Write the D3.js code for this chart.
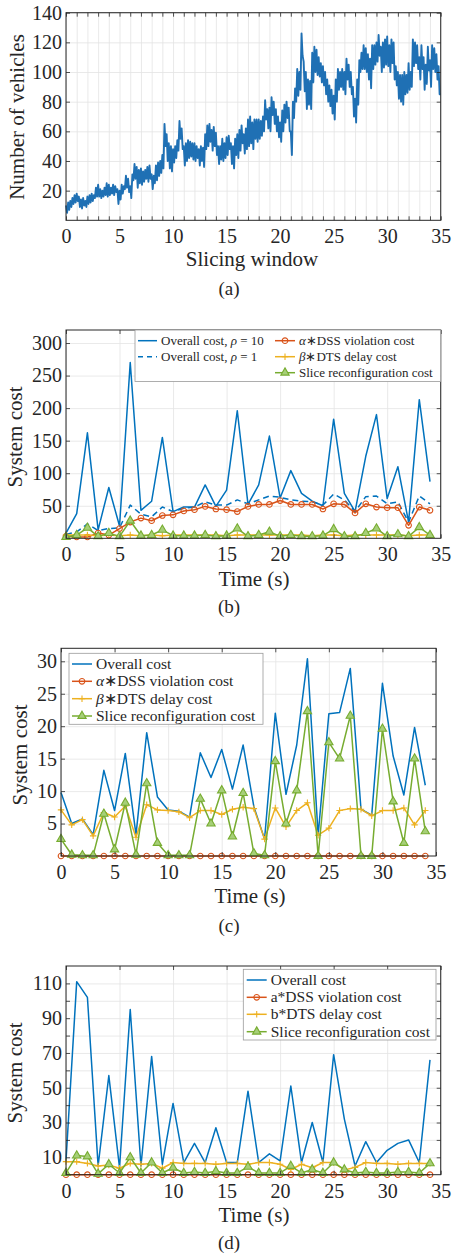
<!DOCTYPE html>
<html>
<head>
<meta charset="utf-8">
<script src="https://cdn.jsdelivr.net/npm/d3@7"></script>
<style>
body { margin: 0; background: #fff; }
svg text { font-family: "Liberation Serif", "Times New Roman", serif; fill: #262626; }
</style>
</head>
<body>
<svg id="fig" width="452" height="1258" font-family="Liberation Serif, Times New Roman, serif"></svg>
<script>
// (a) number of vehicles, one sample every 0.1 slicing window
var vehicleStep = 0.1;
var vehicleCounts = [
    10, 5, 12, 7, 13, 9, 15, 11, 17, 12,
    18, 13, 16, 9, 14, 8, 15, 10, 13, 9,
    16, 11, 17, 12, 18, 13, 17, 15, 22, 16,
    24, 16, 21, 15, 20, 16, 22, 17, 25, 16,
    24, 17, 22, 18, 24, 17, 23, 19, 21, 11,
    20, 14, 24, 18, 23, 21, 30, 22, 28, 19,
    23, 15, 31, 27, 38, 28, 36, 22, 34, 25,
    35, 24, 33, 26, 34, 28, 36, 26, 37, 28,
    31, 21, 30, 25, 37, 27, 39, 30, 40, 32,
    44, 35, 65, 50, 58, 40, 52, 35, 50, 33,
    48, 39, 50, 42, 54, 47, 67, 55, 62, 48,
    50, 37, 52, 40, 54, 42, 53, 43, 52, 41,
    52, 40, 50, 42, 48, 37, 50, 40, 49, 36,
    58, 48, 64, 50, 65, 53, 61, 47, 63, 50,
    59, 44, 50, 38, 50, 41, 55, 40, 52, 42,
    56, 44, 57, 48, 52, 38, 50, 35, 55, 44,
    58, 42, 61, 47, 64, 52, 58, 45, 62, 48,
    68, 50, 70, 52, 66, 48, 68, 55, 68, 53,
    68, 55, 67, 57, 70, 60, 81, 68, 75, 62,
    76, 60, 83, 71, 80, 65, 75, 60, 70, 56,
    66, 53, 74, 60, 78, 66, 80, 69, 76, 60,
    60, 44, 80, 69, 89, 80, 102, 84, 100, 88,
    126, 111, 107, 87, 100, 75, 95, 78, 94, 75,
    113, 93, 117, 100, 115, 98, 110, 97, 106, 93,
    104, 91, 100, 85, 95, 80, 91, 77, 88, 72,
    84, 68, 95, 80, 102, 88, 100, 90, 102, 88,
    100, 85, 109, 95, 105, 90, 100, 85, 90, 70,
    82, 66, 95, 78, 108, 100, 113, 102, 118, 102,
    116, 100, 112, 95, 109, 89, 118, 102, 118, 105,
    120, 107, 125, 111, 117, 100, 120, 103, 122, 105,
    124, 104, 118, 100, 122, 106, 120, 95, 104, 91,
    100, 82, 98, 80, 98, 78, 100, 85, 98, 86,
    106, 88, 100, 90, 122, 104, 120, 106, 118, 102,
    110, 95, 118, 102, 110, 88, 105, 92, 117, 101,
    108, 90, 118, 102, 116, 100, 112, 95, 104, 85,
    85
];

var costTimes = [0, 1, 2, 3, 4, 5, 6, 7, 8, 9, 10, 11, 12, 13, 14, 15, 16, 17,
    18, 19, 20, 21, 22, 23, 24, 25, 26, 27, 28, 29, 30, 31, 32, 33, 34];

// (b)
var overallRho10 = [8, 38, 162, 13, 78, 19, 270, 43, 57, 155, 41, 48, 48, 82, 49, 74, 196, 52,
    82, 157, 62, 104, 69, 57, 50, 183, 69, 41, 126, 190, 61, 110, 25, 213, 87];
var overallRho1 = [6, 10, 22, 12, 15, 16, 51, 37, 33, 48, 41, 46, 48, 56, 51, 51, 59, 53,
    59, 65, 63, 59, 57, 56, 51, 68, 59, 41, 64, 65, 53, 56, 25, 65, 53];
var dssCostB = [3, 2, 2, 8, 5, 15, 25, 31, 27, 35, 36, 42, 44, 49, 45, 44, 41, 49,
    52, 52, 58, 52, 52, 52, 45, 53, 52, 39, 53, 48, 47, 47, 20, 48, 43];
var dtsCostB = [5, 5, 5, 4, 5, 4, 5, 4, 5, 4, 5, 5, 5, 5, 5, 4, 5, 5,
    5, 5, 5, 5, 5, 4, 5, 5, 4, 5, 5, 5, 5, 5, 4, 5, 5];
var reconfCostB = [2, 5, 16, 3, 8, 3, 27, 4, 5, 13, 4, 4, 4, 5, 3, 4, 15, 3,
    5, 10, 3, 5, 3, 3, 4, 14, 3, 3, 8, 15, 3, 6, 3, 17, 5];

// (c)
var overallC = [9.8, 5.0, 5.7, 3.3, 13.2, 7.0, 15.8, 3.3, 19.0, 9.1, 7.1, 6.9, 6.0, 15.9, 12.1, 16.4, 10.3, 17.1,
    7.6, 2.6, 22.0, 9.5, 17.1, 30.4, 3.2, 21.9, 22.1, 28.9, 7.2, 6.3, 26.6, 15.4, 9.4, 19.8, 10.9];
var dssCostC = [0, 0, 0, 0, 0, 0, 0, 0, 0, 0, 0, 0, 0, 0, 0, 0, 0, 0,
    0, 0, 0, 0, 0, 0, 0, 0, 0, 0, 0, 0, 0, 0, 0, 0, 0];
var dtsCostC = [7.1, 4.8, 5.6, 3.1, 6.7, 6.0, 7.7, 2.9, 7.9, 7.1, 7.0, 6.8, 5.9, 7.0, 7.0, 6.4, 7.2, 7.5,
    7.3, 2.6, 7.4, 4.5, 7.0, 8.2, 3.2, 4.3, 7.0, 7.3, 7.2, 6.2, 7.0, 7.0, 7.4, 4.8, 7.0];
var reconfCostC = [2.6, 0.2, 0.1, 0.1, 6.5, 1.0, 8.2, 0.2, 11.2, 2.0, 0.1, 0.1, 0.1, 8.8, 5.0, 10.1, 3.0, 9.7,
    0.4, 0.1, 14.6, 5.0, 10.1, 22.3, 0.0, 17.5, 15.0, 21.6, 0.0, 0.0, 19.6, 8.4, 2.0, 15.0, 3.8];

// (d)
var overallD = [8, 111, 102, 5, 57, 4, 95, 5, 68, 6, 41, 7, 18, 7, 27, 7, 7, 48,
    7, 12, 8, 51, 7, 30, 7, 69, 32, 5, 19, 7, 14, 18, 20, 7, 66];
var dssCostD = [0, 0, 0, 0, 0, 0, 0, 0, 0, 0, 0, 0, 0, 0, 0, 0, 0, 0,
    0, 0, 0, 0, 0, 0, 0, 0, 0, 0, 0, 0, 0, 0, 0, 0, 0];
var dtsCostD = [7.5, 7.5, 6.5, 5.0, 5.6, 3.7, 6.5, 6.0, 6.5, 3.7, 7.0, 6.5, 6.5, 6.5, 6.0, 6.5, 6.5, 6.0,
    7.0, 7.0, 6.0, 3.0, 6.0, 4.0, 7.0, 7.0, 2.7, 4.2, 7.0, 6.5, 6.5, 6.0, 6.5, 6.5, 6.5];
var reconfCostD = [1, 11, 10.5, 0.5, 6, 1, 10, 1, 7, 1, 4, 1, 1.5, 1, 2, 1, 1, 4.5,
    1, 1, 1, 5, 1, 3, 1, 7, 3, 1, 1.5, 1, 1, 1.5, 1.5, 1, 6.5];

var xMajor = [0, 5, 10, 15, 20, 25, 30, 35];
var xMinorA = d3.range(0, 36);

var BLUE = "#0072BD", RED = "#D95319", ORANGE = "#EDB120", GREEN = "#77AC30";
var AXIS = "#262626", GRID = "#e3e3e3";
var SERIF = "Liberation Serif, Times New Roman, serif";

var svg = d3.select("#fig");

function frame(p) {
    var g = svg.append("g");
    var x = d3.scaleLinear().domain([0, 35]).range([p.left, p.right]);
    var y = d3.scaleLinear().domain(p.yDomain).range([p.bottom, p.top]);
    var h = p.bottom - p.top, w = p.right - p.left;

    var grid = g.append("g");
    grid.append("g").attr("transform", "translate(0," + p.bottom + ")")
        .call(d3.axisBottom(x).tickValues(p.xGrid).tickSize(-h).tickFormat(""));
    grid.append("g").attr("transform", "translate(" + p.left + ",0)")
        .call(d3.axisLeft(y).tickValues(p.yTicks).tickSize(-w).tickFormat(""));
    grid.selectAll(".domain").remove();
    grid.selectAll("line").attr("stroke", GRID).attr("stroke-width", 0.8);

    p.x = x; p.y = y; p.g = g;
    return p;
}

function axes(p) {
    var g = p.g.append("g").attr("color", AXIS);
    var labelled = new Set(p.yLabels);
    var ticks = p.xTicks || xMajor;
    g.append("g").attr("transform", "translate(0," + p.bottom + ")")
        .call(d3.axisBottom(p.x).tickValues(ticks).tickSizeInner(-4).tickSizeOuter(0).tickPadding(9)
            .tickFormat(function(d) { return d % 5 === 0 ? d : ""; }));
    g.append("g").attr("transform", "translate(0," + p.top + ")")
        .call(d3.axisTop(p.x).tickValues(ticks).tickSizeInner(-4).tickSizeOuter(0).tickFormat(""));
    g.append("g").attr("transform", "translate(" + p.left + ",0)")
        .call(d3.axisLeft(p.y).tickValues(p.yTicks).tickSizeInner(-4).tickSizeOuter(0).tickPadding(4)
            .tickFormat(function(d) { return labelled.has(d) ? d : ""; }));
    g.append("g").attr("transform", "translate(" + p.right + ",0)")
        .call(d3.axisRight(p.y).tickValues(p.yTicks).tickSizeInner(-4).tickSizeOuter(0).tickFormat(""));
    g.selectAll(".domain").remove();
    g.selectAll("g").attr("font-family", SERIF).attr("font-size", 20);
    g.selectAll("line").attr("stroke-width", 0.8);
    g.selectAll("text").attr("font-family", SERIF).attr("font-size", 20);
    g.append("rect").attr("x", p.left).attr("y", p.top)
        .attr("width", p.right - p.left).attr("height", p.bottom - p.top)
        .attr("fill", "none").attr("stroke", AXIS).attr("stroke-width", 1);

    svg.append("text").attr("x", p.xLabelX).attr("y", p.xLabelY).attr("text-anchor", "middle")
        .attr("font-family", SERIF).attr("font-size", 21).text(p.xLabel);
    svg.append("text").attr("transform", "translate(" + p.yLabelX + "," + p.yLabelY + ") rotate(-90)")
        .attr("text-anchor", "middle").attr("font-family", SERIF).attr("font-size", 21).text(p.yLabel);
    svg.append("text").attr("x", 229).attr("y", p.captionY).attr("text-anchor", "middle")
        .attr("font-family", SERIF).attr("font-size", 19).text(p.caption);
}

function drawMarker(sel, kind, color) {
    if (kind === "circle") {
        sel.append("circle").attr("r", 2.8).attr("fill", "none").attr("stroke", color).attr("stroke-width", 1.1);
    } else if (kind === "plus") {
        sel.append("path").attr("d", "M-3.2,0H3.2M0,-3.2V3.2").attr("stroke", color).attr("stroke-width", 1.1);
    } else if (kind === "tri") {
        sel.append("path").attr("d", d3.symbol().type(d3.symbolTriangle).size(30)())
            .attr("fill", "#a6cf78").attr("stroke", color).attr("stroke-width", 1.1);
    }
}

function series(p, values, color, opts) {
    opts = opts || {};
    var line = d3.line()
        .x(function(d, i) { return p.x(costTimes[i]); })
        .y(function(d) { return p.y(d); });
    p.g.append("path").datum(values).attr("d", line)
        .attr("fill", "none").attr("stroke", color).attr("stroke-width", 1.5)
        .attr("stroke-linejoin", "round")
        .attr("stroke-dasharray", opts.dash || null);
    if (opts.marker) {
        p.g.append("g").selectAll("g").data(values).enter().append("g")
            .attr("transform", function(d, i) { return "translate(" + p.x(costTimes[i]) + "," + p.y(d) + ")"; })
            .each(function() { drawMarker(d3.select(this), opts.marker, color); });
    }
}

function legend(p, box, items, fontSize) {
    var g = svg.append("g");
    g.append("rect").attr("x", box.x).attr("y", box.y).attr("width", box.w).attr("height", box.h)
        .attr("fill", "#fff").attr("stroke", "#9a9a9a").attr("stroke-width", 0.8);
    items.forEach(function(it) {
        var row = g.append("g").attr("transform", "translate(" + it.x + "," + it.y + ")");
        row.append("line").attr("x1", 0).attr("x2", it.len).attr("stroke", it.color)
            .attr("stroke-width", 1.5).attr("stroke-dasharray", it.dash || null);
        if (it.marker) {
            drawMarker(row.append("g").attr("transform", "translate(" + it.len / 2 + ",0)"), it.marker, it.color);
        }
        var t = row.append("text").attr("x", it.len + 4).attr("dy", "0.33em")
            .attr("font-family", SERIF).attr("font-size", fontSize);
        it.text.forEach(function(seg) {
            t.append("tspan").attr("font-style", seg[1] ? "italic" : null).text(seg[0]);
        });
    });
}

// ---------- (a)
var pa = frame({left: 66, right: 440.7, top: 12.7, bottom: 220.3, yDomain: [0, 140],
    xGrid: xMinorA, yTicks: [20, 40, 60, 80, 100, 120, 140]});
pa.g.append("path").datum(vehicleCounts)
    .attr("d", d3.line()
        .x(function(d, i) { return pa.x(i * vehicleStep); })
        .y(function(d) { return pa.y(d); }))
    .attr("fill", "none").attr("stroke", "#1f70b4").attr("stroke-width", 1.9).attr("stroke-linejoin", "round");
pa.xTicks = xMinorA;
pa.yLabels = [20, 40, 60, 80, 100, 120, 140];
pa.xLabel = "Slicing window"; pa.xLabelX = 252; pa.xLabelY = 266;
pa.yLabel = "Number of vehicles"; pa.yLabelX = 24; pa.yLabelY = 117;
pa.caption = "(a)"; pa.captionY = 295;
axes(pa);

// ---------- (b)
var pb = frame({left: 66, right: 440.7, top: 330, bottom: 538.3, yDomain: [0, 320],
    xGrid: xMajor, yTicks: [50, 100, 150, 200, 250, 300]});
series(pb, overallRho10, BLUE);
series(pb, overallRho1, BLUE, {dash: "6,4"});
series(pb, dssCostB, RED, {marker: "circle"});
series(pb, dtsCostB, ORANGE, {marker: "plus"});
series(pb, reconfCostB, GREEN, {marker: "tri"});
pb.yLabels = [50, 100, 150, 200, 250, 300];
pb.xLabel = "Time (s)"; pb.xLabelX = 254; pb.xLabelY = 586;
pb.yLabel = "System cost"; pb.yLabelX = 22; pb.yLabelY = 437;
pb.caption = "(b)"; pb.captionY = 613;
axes(pb);
legend(pb, {x: 135, y: 330, w: 305.7, h: 51.5}, [
    {x: 138, y: 340.7, len: 19, color: BLUE, text: [["Overall cost, ", 0], ["\u03c1", 1], [" = 10", 0]]},
    {x: 138, y: 356.7, len: 19, color: BLUE, dash: "5,4", text: [["Overall cost, ", 0], ["\u03c1", 1], [" = 1", 0]]},
    {x: 275, y: 340.7, len: 20, color: RED, marker: "circle", text: [["\u03b1", 1], ["\u2217DSS violation cost", 0]]},
    {x: 275, y: 356.7, len: 20, color: ORANGE, marker: "plus", text: [["\u03b2", 1], ["\u2217DTS delay cost", 0]]},
    {x: 275, y: 372.7, len: 20, color: GREEN, marker: "tri", text: [["Slice reconfiguration cost", 0]]}
], 13);

// ---------- (c)
var pc = frame({left: 61, right: 436, top: 648.3, bottom: 856, yDomain: [0, 32],
    xGrid: xMajor, yTicks: [5, 10, 15, 20, 25, 30]});
series(pc, overallC, BLUE);
series(pc, dssCostC, RED, {marker: "circle"});
series(pc, dtsCostC, ORANGE, {marker: "plus"});
series(pc, reconfCostC, GREEN, {marker: "tri"});
pc.yLabels = [5, 10, 15, 20, 25, 30];
pc.xLabel = "Time (s)"; pc.xLabelX = 250; pc.xLabelY = 903;
pc.yLabel = "System cost"; pc.yLabelX = 27; pc.yLabelY = 755;
pc.caption = "(c)"; pc.captionY = 932;
axes(pc);
legend(pc, {x: 69, y: 653.3, w: 194, h: 71}, [
    {x: 72, y: 664, len: 20, color: BLUE, text: [["Overall cost", 0]]},
    {x: 72, y: 681.3, len: 20, color: RED, marker: "circle", text: [["\u03b1", 1], ["\u2217DSS violation cost", 0]]},
    {x: 72, y: 698.7, len: 20, color: ORANGE, marker: "plus", text: [["\u03b2", 1], ["\u2217DTS delay cost", 0]]},
    {x: 72, y: 716, len: 20, color: GREEN, marker: "tri", text: [["Slice reconfiguration cost", 0]]}
], 15.5);

// ---------- (d)
var pd = frame({left: 66, right: 440.7, top: 966, bottom: 1174.7, yDomain: [0, 120],
    xGrid: xMajor, yTicks: [10, 20, 30, 40, 50, 60, 70, 80, 90, 100, 110]});
series(pd, overallD, BLUE);
series(pd, dssCostD, RED, {marker: "circle"});
series(pd, dtsCostD, ORANGE, {marker: "plus"});
series(pd, reconfCostD, GREEN, {marker: "tri"});
pd.yLabels = [10, 30, 50, 70, 90, 110];
pd.xLabel = "Time (s)"; pd.xLabelX = 254; pd.xLabelY = 1222;
pd.yLabel = "System cost"; pd.yLabelX = 22; pd.yLabelY = 1073;
pd.caption = "(d)"; pd.captionY = 1249;
axes(pd);
legend(pd, {x: 243.3, y: 969.3, w: 192.7, h: 70.7}, [
    {x: 246.7, y: 980, len: 20, color: BLUE, text: [["Overall cost", 0]]},
    {x: 246.7, y: 997.3, len: 20, color: RED, marker: "circle", text: [["a*DSS violation cost", 0]]},
    {x: 246.7, y: 1014.3, len: 20, color: ORANGE, marker: "plus", text: [["b*DTS delay cost", 0]]},
    {x: 246.7, y: 1031.7, len: 20, color: GREEN, marker: "tri", text: [["Slice reconfiguration cost", 0]]}
], 15.5);
</script>
</body>
</html>
